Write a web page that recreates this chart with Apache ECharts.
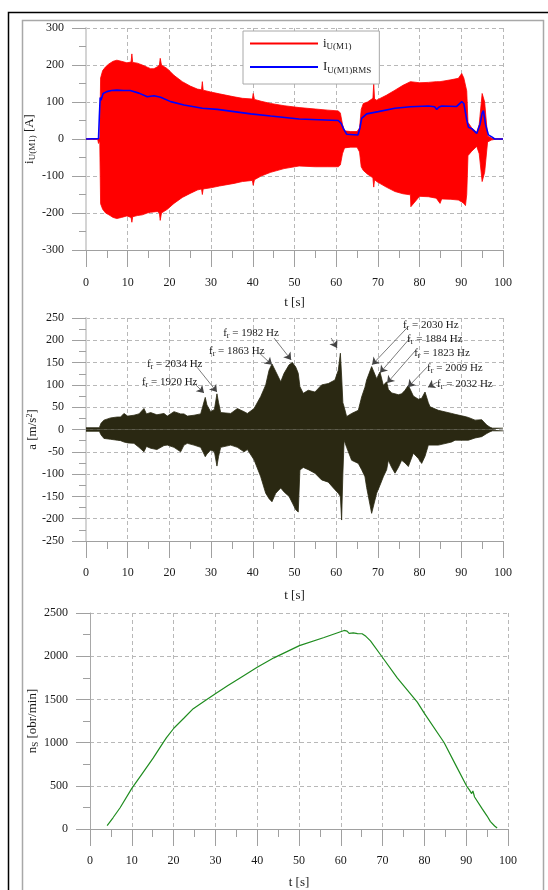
<!DOCTYPE html>
<html><head><meta charset="utf-8">
<script src="https://cdn.jsdelivr.net/npm/echarts@6/dist/echarts.min.js"></script>
<style>html,body{margin:0;padding:0;background:#fff}#c{width:548px;height:890px}</style>
</head><body><div id="c"></div><script>
// ---- Chart 1: phase current i_U(M1) envelope and RMS ----
const tCur = [0,2.8,3.0,3.3,3.5,4.0,4.7,5.5,6.5,7.4,8.5,9.8,10.8,11.0,11.2,12.3,13.5,14.7,15.5,16.3,17.1,17.6,17.8,18.1,19.5,21.1,23.1,25.0,26.7,27.7,27.9,28.1,29.9,32.0,35.5,37.5,39.9,40.1,40.4,42.0,44.3,47.5,51.1,55.0,58.0,60.5,61.0,61.5,62.0,63.5,65.0,65.6,66.0,66.5,67.5,68.8,69.0,69.2,69.7,72.0,74.1,76.0,77.8,77.9,80.0,82.1,84.0,84.9,85.3,87.5,89.3,90.1,90.6,91.0,91.3,91.6,92.5,93.7,94.3,95.0,95.6,96.3,97.2,98,100];
const iUpper = [1,1,2,3,165,185,195,203,210,213,210,206,208,230,207,205,200,194,190,190,195,200,218,200,190,172,155,143,135,133,155,132,127,122,114,110,108,123,107,102,96,90,85,81,78,76,70,40,22,20,20,30,80,96,100,110,150,108,105,118,132,145,155,150,152,153,155,155,157,160,164,177,165,160,130,45,30,18,40,123,100,8,3,1,1];
const iLower = [-1,-1,-12,-5,-175,-190,-200,-205,-212,-215,-212,-208,-212,-225,-210,-207,-205,-200,-198,-197,-196,-200,-220,-200,-190,-174,-158,-147,-138,-135,-150,-135,-132,-127,-120,-115,-112,-125,-110,-100,-90,-80,-73,-75,-75,-75,-70,-40,-24,-22,-22,-35,-75,-85,-95,-105,-130,-110,-115,-130,-142,-148,-151,-183,-155,-156,-160,-174,-162,-163,-165,-170,-174,-180,-150,-45,-33,-20,-40,-115,-90,-8,-3,-1,-1];
const tRms = [0,3.0,3.2,3.4,3.6,4.1,5.0,6.1,7.4,9.0,10.6,12.7,14.7,16.3,17.9,20.3,23.5,27.9,31.5,35.5,39.5,44.3,51.1,60.5,61.2,61.7,62.5,65.2,65.7,66.1,67.3,70.1,74.1,77.8,82.1,83.6,84.1,84.6,85.3,88.9,90.1,90.6,90.9,91.3,91.7,92.5,93.7,94.5,95.0,95.3,95.8,96.5,97.4,98.0,100];
const iRms = [0,1,60,112,105,123,128,131,132,131,131,124,114,117,113,101,92,83,80,74,68,62,54,50,42,29,13,11,30,56,68,74,83,87,89,87,80,86,89,88,101,96,92,52,32,28,15,40,70,77,40,11,5,0,0];

// ---- Chart 2: acceleration envelope ----
const tAcc = [0,3.2,3.6,4.3,5.9,7.5,8.3,9.1,10.0,11.5,12.7,13.9,14.5,15.5,17.0,18.7,19.5,21.1,22.7,23.5,24.3,25.9,27.5,28.3,28.6,29.0,29.9,30.8,31.4,31.8,32.3,34.7,36.3,37.9,38.7,40.3,41.9,43.1,43.9,44.6,45.5,46.7,47.5,48.7,49.5,50.3,50.9,51.3,52.1,53.3,54.9,56.5,58.1,59.7,60.5,61.0,61.3,61.6,61.9,62.5,63.7,65.3,66.1,66.9,67.3,68.5,69.7,70.5,71.3,72.1,72.5,73.3,74.1,74.9,75.7,76.5,77.3,78.5,79.7,80.5,81.3,82.1,82.5,84.5,87.7,88.5,90.9,91.7,93.3,94.9,95.3,96.1,96.9,97.5,100];
const aUpper = [4,4,14,21,26,28,28,36,30,32,35,47,35,38,33,36,30,40,35,35,30,32,35,62,72,55,40,45,80,60,38,36,47,40,36,47,74,100,133,147,130,107,126,145,150,140,126,96,81,88,84,100,103,111,133,171,120,60,51,29,36,43,73,95,111,141,114,129,99,107,90,82,80,78,80,88,99,75,68,70,84,60,51,43,36,34,29,27,21,22,23,10,5,3,3];
const aLower = [-4,-4,-12,-20,-22,-24,-25,-28,-30,-31,-40,-50,-38,-42,-45,-36,-35,-40,-50,-35,-31,-35,-40,-55,-61,-55,-46,-50,-82,-60,-40,-35,-40,-50,-45,-68,-106,-143,-155,-162,-143,-131,-140,-150,-165,-180,-185,-91,-85,-90,-98,-113,-118,-135,-143,-150,-203,-100,-24,-40,-69,-76,-90,-106,-130,-188,-143,-125,-106,-90,-69,-85,-98,-85,-69,-75,-83,-53,-65,-76,-60,-35,-38,-35,-28,-24,-24,-24,-19,-16,-15,-9,-5,-3,-3];
// resonance annotations
const annFreq = ['2034 Hz','1920 Hz','1982 Hz','1863 Hz','2030 Hz','1884 Hz','1823 Hz','2009 Hz','2032 Hz'];
const annTextAt = [[14.6,147],[13.4,106],[32.9,216],[29.5,176],[76.0,234],[77.0,203],[78.7,172],[81.8,138],[84.2,102]];
const arrowFrom = [[26.6,140],[25.9,104],[45.1,205],[41.5,172],[58.8,205],[77.2,230],[77.7,205],[79.1,178],[81.8,140],[84.2,106]];
const arrowTo = [[31.4,84],[28.3,82],[49.2,156],[44.6,145],[60.2,183],[68.6,145],[70.5,127],[72.2,104],[77.2,95],[82.0,95]];

// ---- Chart 3: speed ----
const tSpd = [4.1,5.5,7.2,10,12.5,15.1,17.5,18.3,20.1,22.5,24.7,27.5,29.9,33,35.9,40,44,50.1,56,60.8,61.5,62,63,64,65.1,66,67.1,69.9,73.5,78.3,80,84.7,87.5,90.1,90.8,91.0,91.3,91.6,92.0,92.2,93.8,95.0,95.8,96.8,97.4];
const nSpd = [40,130,246,470,640,820,1000,1057,1169,1285,1393,1485,1562,1660,1749,1872,1981,2122,2216,2298,2290,2264,2270,2262,2260,2230,2178,1991,1749,1469,1338,1001,739,497,450,470,410,440,370,347,235,150,86,35,11];

const xTicks = [0,10,20,30,40,50,60,70,80,90,100];

const FF = 'Liberation Serif';
const TXT = '#1a1a1a';
const zip = (a, b) => a.map((v, k) => [v, b[k]]);

function xAx(gi, margin, gap) {
  return {
    type: 'value', gridIndex: gi, min: xTicks[0], max: xTicks[xTicks.length - 1], interval: 10,
    position: 'bottom', name: 't [s]', nameLocation: 'middle', nameGap: gap, nameMoveOverlap: false,
    nameTextStyle: { fontFamily: FF, fontSize: 13, color: TXT },
    axisLine: { onZero: false, lineStyle: { color: '#a0a0a0', width: 1 } },
    axisTick: { show: true, length: 17, lineStyle: { color: '#a0a0a0' } },
    minorTick: { show: true, splitNumber: 2, length: 8, lineStyle: { color: '#a0a0a0' } },
    axisLabel: { margin: margin, fontFamily: FF, fontSize: 12, color: TXT, formatter: v => String(v) },
    splitLine: { show: true, lineStyle: { type: [4, 3], color: '#b8b8b8', width: 1 } }
  };
}
function yAx(gi, min, max, interval, name, gap, rich, lineColor, lineW) {
  return {
    type: 'value', gridIndex: gi, min, max, interval,
    name, nameLocation: 'middle', nameGap: gap, nameMoveOverlap: false,
    nameTextStyle: { fontFamily: FF, fontSize: 13, color: TXT, rich },
    axisLine: { show: true, onZero: false, lineStyle: { color: lineColor, width: lineW } },
    axisTick: { show: true, length: 14, lineStyle: { color: '#a0a0a0' } },
    minorTick: { show: true, splitNumber: 2, length: 7, lineStyle: { color: '#a0a0a0' } },
    axisLabel: { margin: 22, fontFamily: FF, fontSize: 12, color: TXT, formatter: v => String(v) },
    splitLine: { show: true, lineStyle: { type: [4, 3], color: '#b8b8b8', width: 1 } }
  };
}
const subRich = { s: { fontFamily: FF, fontSize: 9, color: TXT, padding: [6, 0, 0, 0] } };
const supRich = { p: { fontFamily: FF, fontSize: 8, color: TXT, padding: [0, 0, 6, 0] } };

const RED = '#ff0000', BLUE = '#0000ff', DARK = '#2a2812', GREEN = '#1f8c1f';

const chart = echarts.init(document.getElementById('c'), null, { renderer: 'canvas' });
const option = {
  animation: false,
  backgroundColor: '#fff',
  grid: [
    { left: 86, top: 28, width: 417, height: 222 },
    { left: 86, top: 318, width: 417, height: 223 },
    { left: 90, top: 613, width: 418, height: 223 }
  ],
  xAxis: [xAx(0, 27, 46), xAx(1, 26, 48), xAx(2, 26, 47)],
  yAxis: [
    yAx(0, -300, 300, 100, 'i{s|U(M1)} [A]', 49, subRich, '#d4d4d4', 2),
    yAx(1, -250, 250, 50, 'a [m/s{p|2}]', 46, supRich, '#d4d4d4', 2),
    yAx(2, 0, 2500, 500, 'n{s|S} [obr/min]', 50, subRich, '#a8a8a8', 1)
  ],
  legend: {
    left: 243, top: 31, orient: 'vertical',
    padding: [6, 8, 9, 7], itemGap: 9, itemWidth: 68, itemHeight: 2,
    borderColor: '#a8a8a8', borderWidth: 1, backgroundColor: '#fff',
    data: [{ name: 'i', icon: 'rect' }, { name: 'I', icon: 'rect' }],
    formatter: n => n === 'i' ? '{m|i}{s|U(M1)}' : '{m|I}{s|U(M1)RMS}',
    textStyle: {
      fontFamily: FF, fontSize: 13, color: TXT,
      rich: { m: { fontFamily: FF, fontSize: 13, color: TXT }, s: { fontFamily: FF, fontSize: 9, color: TXT, padding: [7, 0, 0, 0] } }
    }
  },
  series: [
    { name: 'i', type: 'line', xAxisIndex: 0, yAxisIndex: 0, data: zip(tCur, iUpper), showSymbol: false, color: RED,
      lineStyle: { color: RED, width: 0.8 }, areaStyle: { color: RED, opacity: 1, origin: 0 }, z: 2 },
    { name: 'i', type: 'line', xAxisIndex: 0, yAxisIndex: 0, data: zip(tCur, iLower), showSymbol: false, color: RED,
      lineStyle: { color: RED, width: 0.8 }, areaStyle: { color: RED, opacity: 1, origin: 0 }, z: 2 },
    { name: 'I', type: 'line', xAxisIndex: 0, yAxisIndex: 0, data: zip(tRms, iRms), showSymbol: false, color: BLUE,
      lineStyle: { color: BLUE, width: 1.6 }, z: 3 },
    { name: 'a+', type: 'line', xAxisIndex: 1, yAxisIndex: 1, data: zip(tAcc, aUpper), showSymbol: false, color: DARK,
      lineStyle: { color: DARK, width: 0.8 }, areaStyle: { color: DARK, opacity: 1, origin: 0 }, z: 2,
      markLine: {
        silent: true, symbol: ['none', 'arrow'], symbolSize: 7, animation: false,
        lineStyle: { color: '#444', width: 0.7, type: 'solid' }, label: { show: false },
        data: arrowFrom.map((p, k) => [{ coord: p }, { coord: arrowTo[k] }])
      }
    },
    { name: 'a-', type: 'line', xAxisIndex: 1, yAxisIndex: 1, data: zip(tAcc, aLower), showSymbol: false, color: DARK,
      lineStyle: { color: DARK, width: 0.8 }, areaStyle: { color: DARK, opacity: 1, origin: 0 }, z: 2,
      markPoint: {
        silent: true, symbol: 'circle', symbolSize: 0, animation: false,
        data: annFreq.map((f, k) => ({
          coord: annTextAt[k],
          label: {
            show: true, position: 'right', distance: 0,
            formatter: '{f|f}{r|r}{f| = ' + f + '}',
            rich: {
              f: { fontFamily: FF, fontSize: 11, color: TXT },
              r: { fontFamily: FF, fontSize: 8, color: TXT, padding: [6, 0, 0, 0] }
            }
          }
        }))
      }
    },
    { name: 'n', type: 'line', xAxisIndex: 2, yAxisIndex: 2, data: zip(tSpd, nSpd), showSymbol: false, color: GREEN,
      lineStyle: { color: GREEN, width: 1.2 }, z: 3 }
  ],
  graphic: [
    { type: 'rect', silent: true, z: -1, shape: { x: 8.5, y: 12.5, width: 620, height: 900 }, style: { fill: 'none', stroke: '#000', lineWidth: 1.5 } },
    { type: 'rect', silent: true, z: -1, shape: { x: 22.5, y: 20.5, width: 521, height: 900 }, style: { fill: 'none', stroke: '#a8a8a8', lineWidth: 1.5 } }
  ]
};
chart.setOption(option);
</script></body></html>
